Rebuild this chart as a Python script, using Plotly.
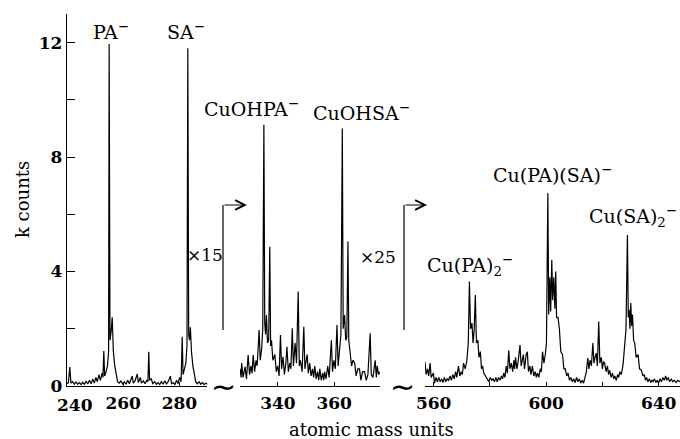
import plotly.graph_objects as go

# ---- data (displayed values, k counts; segments 2 and 3 are shown magnified) ----
seg1_mass = [240.0, 240.5, 241.0, 241.4, 242.0, 242.6, 243.2, 243.8, 244.4, 245.0, 245.6, 246.2, 246.8,
             247.4, 248.0, 248.6, 249.2, 249.7, 250.3, 250.8, 251.4, 251.9, 252.5, 252.8, 253.1, 253.4,
             253.9, 254.4, 254.8, 255.0, 255.3, 255.7, 256.1, 256.5, 257.0, 257.5, 258.0, 258.6, 259.2,
             259.8, 260.4, 261.0, 261.6, 262.2, 262.8, 263.2, 263.6, 264.2, 265.0, 265.4, 266.1, 266.5,
             267.2, 267.8, 268.4, 268.8, 269.1, 269.4, 270.0, 270.5, 271.2, 271.8, 272.4, 273.0, 273.6,
             274.2, 274.8, 275.4, 276.0, 276.8, 277.2, 277.8, 278.4, 279.0, 279.5, 280.1, 280.6, 281.0,
             281.3, 281.8, 282.3, 282.7, 283.0, 283.3, 283.6, 283.9, 284.3, 284.8, 285.3, 285.8, 286.4,
             287.0, 287.6, 288.2, 288.8, 289.4, 290.0]
seg1_kcounts = [0.08, 0.12, 0.66, 0.10, 0.15, 0.06, 0.14, 0.06, 0.12, 0.05, 0.13, 0.06, 0.16,
                0.07, 0.20, 0.08, 0.25, 0.10, 0.30, 0.15, 0.40, 0.20, 0.45, 0.30, 1.22, 0.35,
                0.50, 0.70, 1.20, 11.95, 1.60, 1.90, 2.40, 1.20, 0.70, 0.35, 0.15, 0.10, 0.18,
                0.07, 0.15, 0.06, 0.20, 0.08, 0.22, 0.35, 0.10, 0.18, 0.42, 0.12, 0.30, 0.10,
                0.18, 0.08, 0.20, 0.15, 1.20, 0.20, 0.25, 0.08, 0.15, 0.06, 0.12, 0.05, 0.15,
                0.06, 0.18, 0.07, 0.15, 0.35, 0.08, 0.12, 0.05, 0.20, 0.08, 0.30, 0.15, 1.72,
                0.40, 0.60, 0.80, 1.40, 11.80, 1.80, 1.60, 2.05, 1.20, 0.70, 0.35, 0.15, 0.08,
                0.15, 0.06, 0.12, 0.05, 0.10, 0.06]

seg2_mass = [326.5, 326.9, 327.1, 327.6, 328.3, 328.8, 329.4, 329.9, 330.4, 330.8, 331.2, 331.7, 332.2,
             332.6, 333.3, 333.7, 334.2, 334.6, 335.0, 335.3, 335.6, 335.9, 336.3, 336.7, 337.1, 337.4,
             337.7, 338.2, 338.9, 339.4, 339.9, 340.4, 340.9, 341.3, 341.8, 342.3, 342.8, 343.2, 343.7,
             344.2, 344.6, 345.1, 345.5, 346.1, 346.6, 347.2, 347.6, 348.0, 348.6, 349.2, 349.6, 350.0,
             350.4, 350.8, 351.3, 351.8, 352.3, 352.7, 353.1, 353.6, 354.1, 354.5, 354.9, 355.4, 355.9,
             356.3, 356.6, 357.1, 357.7, 358.2, 358.6, 359.0, 359.4, 359.9, 360.4, 361.0, 361.4, 361.9,
             362.4, 362.9, 363.2, 363.7, 364.1, 364.5, 364.9, 365.2, 365.7, 366.2, 366.7, 367.3, 367.8,
             368.4, 369.0, 369.5, 370.1, 370.8, 371.4, 372.0, 372.8, 373.2, 373.8, 374.2, 374.6, 375.0,
             375.3, 375.8, 376.3]
seg2_kcounts_x15 = [0.60, 0.30, 0.80, 0.30, 0.67, 0.25, 1.08, 0.40, 0.70, 0.45, 1.08, 0.50, 0.90,
                    0.70, 1.96, 0.90, 1.30, 2.00, 9.13, 2.20, 1.80, 2.48, 1.50, 1.60, 4.87, 1.40,
                    1.60, 0.90, 1.10, 0.50, 0.70, 0.35, 1.78, 0.60, 1.02, 0.40, 0.80, 1.37, 0.50,
                    0.80, 0.60, 2.02, 0.70, 1.50, 0.80, 3.30, 0.70, 0.90, 0.50, 2.07, 0.60, 0.80,
                    1.10, 0.45, 0.80, 0.35, 0.60, 0.30, 0.70, 0.25, 0.50, 0.20, 0.60, 0.20, 0.45,
                    0.20, 0.50, 0.25, 0.70, 0.30, 0.80, 1.60, 0.50, 0.90, 0.60, 2.13, 0.70, 1.20,
                    1.80, 9.00, 2.00, 2.48, 1.60, 1.70, 5.05, 1.60, 1.10, 0.70, 0.90, 0.80, 0.35,
                    0.60, 0.60, 0.20, 0.50, 0.50, 0.20, 0.40, 1.84, 0.40, 0.30, 0.60, 0.90, 0.30,
                    0.70, 0.40, 0.50]

seg3_mass = [556.9, 557.3, 557.8, 558.2, 558.7, 559.1, 559.9, 560.3, 560.8, 561.3, 561.8, 562.3, 562.8,
             563.3, 563.8, 564.3, 564.8, 565.3, 565.8, 566.3, 566.8, 567.3, 567.8, 568.2, 568.8, 569.3,
             569.8, 570.2, 570.6, 571.2, 571.8, 572.3, 572.7, 573.1, 573.6, 574.0, 574.4, 574.8, 575.2,
             575.7, 576.1, 576.6, 577.0, 577.4, 577.8, 578.3, 578.8, 579.3, 579.6, 580.1, 580.6, 581.1,
             581.6, 582.1, 582.6, 583.1, 583.6, 584.1, 584.5, 584.9, 585.3, 585.8, 586.2, 586.7, 587.1,
             587.6, 588.1, 588.5, 588.8, 589.1, 589.6, 590.1, 590.7, 591.1, 591.5, 591.9, 592.3, 592.9,
             593.3, 593.7, 594.2, 594.6, 595.1, 595.6, 596.1, 596.5, 596.9, 597.4, 597.9, 598.3, 598.7,
             599.2, 599.7, 600.1, 600.6, 600.9, 601.3, 601.6, 602.0, 602.3, 602.7, 603.1, 603.4, 603.7,
             604.2, 604.7, 605.2, 605.8, 606.3, 606.8, 607.3, 607.8, 608.3, 608.8, 609.3, 609.8, 610.3,
             610.8, 611.3, 611.8, 612.3, 612.8, 613.3, 613.8, 614.3, 614.8, 615.2, 615.6, 616.1, 616.6,
             617.0, 617.4, 617.8, 618.2, 618.7, 619.1, 619.6, 620.0, 620.4, 620.8, 621.3, 621.8, 622.2,
             622.6, 623.1, 623.6, 624.0, 624.4, 624.9, 625.4, 625.8, 626.2, 626.7, 627.1, 627.4, 627.9,
             628.4, 628.9, 629.2, 629.5, 629.8, 630.1, 630.4, 630.7, 631.1, 631.5, 632.0, 632.7, 633.2,
             633.9, 634.4, 634.9, 635.3, 635.7, 636.2, 636.7, 637.2, 637.6, 638.0, 638.5, 639.0, 639.5,
             640.0, 640.5, 641.0, 641.5, 642.0, 642.5, 642.9, 643.4, 643.9, 644.5, 645.0, 645.6, 646.2,
             646.8, 647.6]
seg3_kcounts_x25 = [0.85, 0.40, 0.60, 0.35, 0.80, 0.30, 0.45, 0.10, 0.30, 0.15, 0.30, 0.15, 0.25,
                    0.12, 0.30, 0.15, 0.25, 0.20, 0.35, 0.20, 0.40, 0.25, 0.50, 0.30, 0.70, 0.35,
                    0.50, 0.40, 0.80, 0.60, 0.90, 1.50, 3.65, 2.00, 2.20, 1.50, 1.96, 3.18, 1.50,
                    1.60, 1.00, 1.20, 0.60, 0.70, 0.45, 0.35, 0.30, 0.20, 0.15, 0.30, 0.20, 0.25,
                    0.15, 0.30, 0.15, 0.30, 0.20, 0.35, 0.25, 0.45, 0.30, 0.70, 0.45, 1.25, 0.60,
                    0.80, 0.50, 0.90, 0.60, 1.00, 0.60, 0.90, 1.43, 0.70, 0.90, 1.10, 0.60, 1.10,
                    1.20, 0.50, 0.70, 0.40, 0.70, 0.35, 0.50, 0.30, 0.45, 0.30, 0.60, 0.50, 1.20,
                    0.80, 1.10, 1.50, 6.74, 2.50, 3.80, 2.60, 4.40, 3.00, 3.80, 2.70, 4.00, 2.40,
                    2.40, 2.00, 1.20, 1.10, 0.60, 0.60, 0.35, 0.45, 0.20, 0.30, 0.15, 0.25, 0.12,
                    0.30, 0.15, 0.25, 0.10, 0.20, 0.10, 0.30, 0.50, 0.98, 0.60, 0.90, 0.70, 1.50,
                    0.80, 1.00, 1.15, 0.70, 2.25, 0.80, 1.00, 0.60, 0.85, 0.80, 0.50, 0.70, 0.40,
                    0.55, 0.30, 0.45, 0.25, 0.35, 0.20, 0.40, 0.30, 0.50, 0.40, 0.60, 0.80, 1.40,
                    2.00, 5.28, 2.40, 2.66, 2.00, 2.90, 2.10, 2.50, 1.60, 1.50, 1.00, 1.10, 0.60,
                    0.55, 0.35, 0.40, 0.20, 0.30, 0.15, 0.25, 0.12, 0.20, 0.15, 0.25, 0.12, 0.20,
                    0.10, 0.25, 0.15, 0.30, 0.20, 0.35, 0.20, 0.30, 0.15, 0.25, 0.15, 0.20, 0.12,
                    0.20, 0.15]

seg_ranges = [[240, 290], [326.5, 376.3], [556.9, 647.6]]
seg_domains = [[0.0, 0.2292], [0.2822, 0.5106], [0.584, 1.0]]
seg_tickvals = [[240, 260, 280], [340, 360], [560, 580, 600, 620, 640]]
# the "240" label sits slightly right of its tick in the original, drawn separately below
seg_ticktext = [["", "260", "280"], ["340", "360"], ["560", "", "600", "", "640"]]
y_tickvals = [0, 2, 4, 6, 8, 10, 12]
y_ticktext = ["0", "", "4", "", "8", "", "12"]

peak_labels = [
    # text, axis, x, y, xanchor
    ("PA<sup>−</sup>", "x", 255.8, 11.9, "center"),
    ("SA<sup>−</sup>", "x", 282.2, 11.9, "center"),
    ("CuOHPA<sup>−</sup>", "x2", 330.7, 9.23, "center"),
    ("CuOHSA<sup>−</sup>", "x2", 369.8, 9.1, "center"),
    ("Cu(PA)(SA)<sup>−</sup>", "x3", 602.4, 6.92, "center"),
    ("Cu(PA)<sub>2</sub><sup>−</sup>", "x3", 556.9, 3.67, "left"),
    ("Cu(SA)<sub>2</sub><sup>−</sup>", "x3", 614.6, 5.38, "left"),
]

FONT = "DejaVu Serif"
TICKFONT = dict(family=FONT, size=17, color="black", weight="bold")
fig = go.Figure()
line = dict(color="black", width=1.2)
fig.add_trace(go.Scatter(x=seg1_mass, y=seg1_kcounts, mode="lines", line=line, xaxis="x", yaxis="y"))
fig.add_trace(go.Scatter(x=seg2_mass, y=seg2_kcounts_x15, mode="lines", line=line, xaxis="x2", yaxis="y"))
fig.add_trace(go.Scatter(x=seg3_mass, y=seg3_kcounts_x25, mode="lines", line=line, xaxis="x3", yaxis="y"))

axis_common = dict(showline=True, linecolor="black", linewidth=1, ticks="inside", ticklen=4,
                   tickcolor="black", showgrid=False, zeroline=False, anchor="y",
                   tickfont=TICKFONT, ticklabelstandoff=2)
for i, name in enumerate(["xaxis", "xaxis2", "xaxis3"]):
    fig.layout[name] = dict(axis_common, domain=seg_domains[i], range=seg_ranges[i],
                            tickmode="array", tickvals=seg_tickvals[i], ticktext=seg_ticktext[i])

fig.update_layout(
    yaxis=dict(domain=[0, 1], range=[0, 13], showline=True, linecolor="black", linewidth=1.3,
               ticks="inside", ticklen=8, tickcolor="black", showgrid=False, zeroline=False,
               tickmode="array", tickvals=y_tickvals, ticktext=y_ticktext, anchor="x",
               tickfont=TICKFONT, ticklabelstandoff=0),
    width=680, height=439, margin=dict(l=67, r=0, t=14, b=53),
    paper_bgcolor="white", plot_bgcolor="white", showlegend=False,
    font=dict(family=FONT, color="black"),
)

ann = []
for text, ax_, xv, yv, xa in peak_labels:
    ann.append(dict(text=text, xref=ax_, yref="y", x=xv, y=yv, xanchor=xa, yanchor="bottom",
                    showarrow=False, font=dict(family=FONT, size=19, color="black")))
# "240" tick label
ann.append(dict(text="240", xref="x", yref="paper", x=242.8, y=-0.051, xanchor="center",
                yanchor="middle", showarrow=False, font=TICKFONT))
# axis titles
ann.append(dict(text="k counts", xref="paper", yref="paper", x=-0.0734, y=0.5, textangle=-90,
                xanchor="center", yanchor="middle",
                showarrow=False, font=dict(family=FONT, size=18, color="black")))
ann.append(dict(text="atomic mass units", xref="paper", yref="paper", x=0.496, y=-0.1156,
                xanchor="center", yanchor="middle",
                showarrow=False, font=dict(family=FONT, size=18, color="black")))
# magnification labels
ann.append(dict(text="×15", xref="paper", yref="paper", x=0.2251, y=0.352, showarrow=False,
                xanchor="center", yanchor="middle", font=dict(family=FONT, size=17, color="black")))
ann.append(dict(text="×25", xref="paper", yref="paper", x=0.5073, y=0.347, showarrow=False,
                xanchor="center", yanchor="middle", font=dict(family=FONT, size=17, color="black")))
# axis break marks
for bx in [0.2545, 0.5465]:
    ann.append(dict(text="∼", xref="paper", yref="paper", x=bx, y=0.0, showarrow=False,
                    xanchor="center", yanchor="middle",
                    font=dict(family="DejaVu Sans", size=30, color="black")))
# bracket arrows
shapes = []
for vx, tip in [(0.2545, 0.2936), (0.5498, 0.5873)]:
    shapes.append(dict(type="line", xref="paper", yref="paper", x0=vx, x1=vx, y0=0.1505, y1=0.4866,
                       line=dict(color="black", width=1.2)))
    ann.append(dict(text="", xref="paper", yref="paper", x=tip, y=0.4866, ax=-(tip - vx) * 613, ay=0,
                    showarrow=True, arrowhead=5, arrowsize=1.6, arrowwidth=1.2, arrowcolor="black"))
fig.update_layout(annotations=ann, shapes=shapes)

fig.write_html("out.html")
